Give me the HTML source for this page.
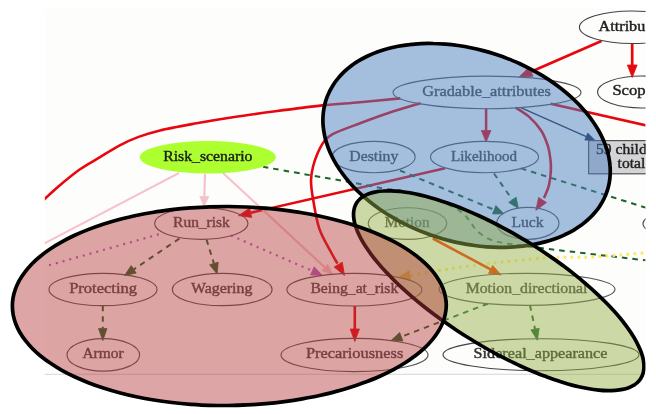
<!DOCTYPE html><html><head><meta charset="utf-8"><style>html,body{margin:0;padding:0;background:#fff;overflow:hidden}svg{display:block;filter:blur(0.3px)}</style></head><body>
<svg width="656" height="414" viewBox="0 0 656 414">
<defs><clipPath id="cp"><rect x="0" y="0" width="645.6" height="414"/></clipPath><clipPath id="cg"><rect x="44.8" y="8.5" width="600.8" height="365.8"/></clipPath></defs>
<rect x="0" y="0" width="656" height="414" fill="#ffffff"/>
<g clip-path="url(#cp)">
<rect x="44.8" y="8.5" width="600.8" height="365.8" fill="#fdfefc"/>
<line x1="44.8" y1="374.3" x2="645.6" y2="374.3" stroke="#d6d6d6" stroke-width="1"/>
<g clip-path="url(#cg)">
<path d="M40.0,203.3 C43.2,200.4 52.6,191.5 59.3,185.8 C66.0,180.1 73.2,174.1 80.0,169.3 C86.8,164.5 93.5,161.1 100.0,157.2 C106.5,153.2 112.9,149.0 119.3,145.6 C125.7,142.2 131.8,139.4 138.6,136.9 C145.4,134.4 150.3,132.7 160.0,130.4 C169.7,128.1 184.5,125.5 196.6,123.3 C208.7,121.1 219.6,119.3 232.7,117.3 C245.8,115.3 260.5,113.3 275.4,111.3 C290.3,109.3 308.2,106.9 322.3,105.4 C336.4,103.9 347.0,103.4 360.0,102.2 C373.0,101.0 393.6,99.0 400.3,98.4" fill="none" stroke="#e8070f" stroke-width="2.6" stroke-linecap="butt"/>
<path d="M420.6,103.2 C415.0,104.9 398.1,109.8 387.0,113.5 C375.9,117.2 363.4,122.0 354.3,125.4 C345.2,128.8 337.7,131.4 332.6,134.1 C327.5,136.8 326.4,138.4 323.9,141.7 C321.4,145.0 319.2,149.5 317.4,153.7 C315.6,157.9 314.1,162.2 313.0,166.7 C311.9,171.2 311.0,175.1 311.0,180.5 C311.0,185.9 311.7,191.3 313.1,199.3 C314.5,207.3 316.2,219.4 319.2,228.3 C322.2,237.2 328.1,246.6 331.2,252.5 C334.2,258.4 336.4,261.7 337.5,263.5" fill="none" stroke="#e8070f" stroke-width="2.6" stroke-linecap="butt"/>
<polygon points="344.5,275.4 334.1,267.0 342.3,262.2" fill="#e8070f" stroke="#e8070f" stroke-width="0.8" stroke-linejoin="miter"/>
<polygon points="238.5,215.6 249.6,208.2 251.7,217.4" fill="#e8070f" stroke="#e8070f" stroke-width="0.8" stroke-linejoin="miter"/>
<line x1="445.1" y1="168.2" x2="250.7" y2="212.8" stroke="#e8070f" stroke-width="2.6"/>
<polygon points="519.1,76.9 529.1,67.3 533.0,76.2" fill="#e8070f" stroke="#e8070f" stroke-width="0.8" stroke-linejoin="miter"/>
<line x1="601.5" y1="41.1" x2="531.0" y2="71.7" stroke="#e8070f" stroke-width="2.7"/>
<polygon points="632.2,77.5 627.4,65.0 637.1,65.0" fill="#e8070f" stroke="#e8070f" stroke-width="0.8" stroke-linejoin="miter"/>
<line x1="632.2" y1="43.9" x2="632.2" y2="65.0" stroke="#e8070f" stroke-width="2.7"/>
<line x1="550.6" y1="103.8" x2="650.0" y2="126.2" stroke="#e8070f" stroke-width="2.7"/>
<polygon points="486.1,142.0 481.4,130.5 490.9,130.5" fill="#e8070f" stroke="#e8070f" stroke-width="0.8" stroke-linejoin="miter"/>
<line x1="486.1" y1="108.2" x2="486.1" y2="130.5" stroke="#e8070f" stroke-width="2.5"/>
<path d="M515.7,107.6 C518.0,109.1 525.0,113.1 529.2,116.9 C533.4,120.7 538.0,125.7 541.1,130.5 C544.2,135.3 546.2,140.9 547.8,145.7 C549.3,150.5 549.9,155.1 550.4,159.2 C550.9,163.2 551.1,165.7 550.9,170.0 C550.7,174.3 550.1,180.3 549.0,185.0 C547.9,189.7 544.8,195.8 544.0,198.0" fill="none" stroke="#e8070f" stroke-width="2.6" stroke-linecap="butt"/>
<polygon points="535.8,210.5 538.6,197.4 546.5,202.5" fill="#e8070f" stroke="#e8070f" stroke-width="0.8" stroke-linejoin="miter"/>
<polygon points="595.0,140.4 584.8,140.0 587.8,133.1" fill="#1c2f4a" stroke="#1c2f4a" stroke-width="0.8" stroke-linejoin="miter"/>
<line x1="520.8" y1="107.6" x2="586.3" y2="136.6" stroke="#1c2f4a" stroke-width="1.3"/>
<line x1="179.0" y1="173.0" x2="40.0" y2="245.8" stroke="#f6c2cb" stroke-width="2.0"/>
<polygon points="204.0,206.5 199.8,196.4 208.8,196.6" fill="#f6c2cb" stroke="#f6c2cb" stroke-width="0.8" stroke-linejoin="miter"/>
<line x1="205.0" y1="173.6" x2="204.3" y2="196.5" stroke="#f6c2cb" stroke-width="2.2"/>
<polygon points="333.0,275.0 322.0,270.6 327.8,264.4" fill="#f6c2cb" stroke="#f6c2cb" stroke-width="0.8" stroke-linejoin="miter"/>
<line x1="223.0" y1="173.0" x2="324.9" y2="267.5" stroke="#f6c2cb" stroke-width="2.2"/>
<path d="M263.0,166.8 C270.1,168.1 292.0,172.0 305.7,174.4 C319.4,176.8 332.7,179.0 345.4,181.3 C358.1,183.6 372.1,186.5 382.0,188.2 C391.9,189.9 397.2,189.8 405.0,191.3 C412.8,192.8 422.3,195.4 429.0,197.3 C435.7,199.2 439.8,200.6 445.0,203.0 C450.2,205.4 456.4,208.7 460.5,211.6 C464.6,214.5 466.9,217.4 469.6,220.6 C472.3,223.8 473.3,227.5 476.8,230.7 C480.3,233.9 484.9,237.4 490.4,239.6 C495.9,241.8 500.0,242.3 509.6,243.9 C519.2,245.5 534.1,247.2 548.0,248.9 C561.9,250.6 576.0,252.2 593.0,254.2 C610.0,256.2 640.5,259.7 650.0,260.8" fill="none" stroke="#1e6428" stroke-width="2.0" stroke-linecap="butt" stroke-dasharray="5.5,5"/>
<polygon points="503.9,213.8 492.5,213.9 495.9,205.6" fill="#1e6428" stroke="#1e6428" stroke-width="0.8" stroke-linejoin="miter"/>
<line x1="400.0" y1="170.5" x2="494.2" y2="209.8" stroke="#1e6428" stroke-width="2.0" stroke-dasharray="5.5,5"/>
<polygon points="518.4,208.4 508.7,202.4 516.1,197.2" fill="#1e6428" stroke="#1e6428" stroke-width="0.8" stroke-linejoin="miter"/>
<line x1="494.0" y1="173.5" x2="512.4" y2="199.8" stroke="#1e6428" stroke-width="2.0" stroke-dasharray="5.5,5"/>
<line x1="521.0" y1="168.4" x2="650.0" y2="209.0" stroke="#1e6428" stroke-width="2.0" stroke-dasharray="5.5,5"/>
<path d="M650.0,252.5 C640.5,253.2 610.0,256.0 593.0,256.9 C576.0,257.8 566.2,256.5 548.0,257.7 C529.8,258.9 502.1,262.0 484.0,264.1 C465.9,266.2 451.4,268.6 439.2,270.5 C427.0,272.4 415.7,274.7 411.0,275.5" fill="none" stroke="#fbe866" stroke-width="3.0" stroke-linecap="butt" stroke-dasharray="2.6,4.4"/>
<polygon points="399.1,277.0 409.2,270.6 410.7,279.9" fill="#eac040" stroke="#eac040" stroke-width="0.8" stroke-linejoin="miter"/>
<polygon points="501.2,275.0 488.5,273.3 492.7,265.4" fill="#ff3000" stroke="#ff3000" stroke-width="0.8" stroke-linejoin="miter"/>
<line x1="432.8" y1="238.5" x2="490.6" y2="269.4" stroke="#ff3000" stroke-width="2.6"/>
<polygon points="124.6,275.5 131.2,265.6 136.2,273.1" fill="#1e6428" stroke="#1e6428" stroke-width="0.8" stroke-linejoin="miter"/>
<line x1="179.5" y1="238.5" x2="133.7" y2="269.4" stroke="#1e6428" stroke-width="2.0" stroke-dasharray="5.5,5"/>
<polygon points="217.1,274.0 209.6,264.8 218.2,262.2" fill="#1e6428" stroke="#1e6428" stroke-width="0.8" stroke-linejoin="miter"/>
<line x1="206.5" y1="239.5" x2="213.9" y2="263.5" stroke="#1e6428" stroke-width="2.0" stroke-dasharray="5.5,5"/>
<polygon points="322.0,275.1 310.6,275.0 314.2,266.8" fill="#b45cc0" stroke="#b45cc0" stroke-width="0.8" stroke-linejoin="miter"/>
<line x1="231.0" y1="235.5" x2="312.4" y2="270.9" stroke="#b45cc0" stroke-width="2.2" stroke-dasharray="2,5"/>
<line x1="158.8" y1="234.3" x2="40.0" y2="267.8" stroke="#b45cc0" stroke-width="2.2" stroke-dasharray="2,5"/>
<polygon points="102.8,340.6 98.5,328.6 107.0,328.6" fill="#1e6428" stroke="#1e6428" stroke-width="0.8" stroke-linejoin="miter"/>
<line x1="102.8" y1="305.8" x2="102.8" y2="328.6" stroke="#1e6428" stroke-width="2.0" stroke-dasharray="5.5,5"/>
<polygon points="354.8,341.5 350.2,329.0 359.4,329.0" fill="#e8070f" stroke="#e8070f" stroke-width="0.8" stroke-linejoin="miter"/>
<line x1="354.8" y1="306.0" x2="354.8" y2="329.0" stroke="#e8070f" stroke-width="2.6"/>
<polygon points="391.0,340.6 399.7,332.5 402.9,340.9" fill="#1e6428" stroke="#1e6428" stroke-width="0.8" stroke-linejoin="miter"/>
<line x1="487.9" y1="303.7" x2="401.3" y2="336.7" stroke="#1e6428" stroke-width="2.0" stroke-dasharray="5.5,5"/>
<polygon points="537.4,340.3 530.9,329.9 539.2,328.2" fill="#1e6428" stroke="#1e6428" stroke-width="0.8" stroke-linejoin="miter"/>
<line x1="530.0" y1="305.2" x2="535.0" y2="329.0" stroke="#1e6428" stroke-width="2.0" stroke-dasharray="5.5,5"/>
</g>
<ellipse cx="632" cy="27.25" rx="52.6" ry="16.25" fill="none" stroke="#444" stroke-width="1.15"/>
<text x="598.6" y="30.9" textLength="46.7" lengthAdjust="spacingAndGlyphs" style="font-family:'Liberation Serif',serif;font-size:13.7px" fill="#1e1e1e" stroke="#1e1e1e" stroke-width="0.4">Attribu</text>
<ellipse cx="642" cy="92" rx="44.5" ry="16" fill="none" stroke="#444" stroke-width="1.15"/>
<text x="612.4" y="94.9" textLength="40.5" lengthAdjust="spacingAndGlyphs" style="font-family:'Liberation Serif',serif;font-size:13.7px" fill="#1e1e1e" stroke="#1e1e1e" stroke-width="0.4">Scope</text>
<ellipse cx="487" cy="92.4" rx="94" ry="16.3" fill="none" stroke="#555555" stroke-width="1.15"/>
<text x="422.2" y="95.6" textLength="128.6" lengthAdjust="spacingAndGlyphs" style="font-family:'Liberation Serif',serif;font-size:13.7px" fill="#474747" stroke="#474747" stroke-width="0.4">Gradable_attributes</text>
<ellipse cx="373.6" cy="157" rx="41.6" ry="15.7" fill="none" stroke="#555555" stroke-width="1.15"/>
<text x="349.3" y="161" textLength="49.1" lengthAdjust="spacingAndGlyphs" style="font-family:'Liberation Serif',serif;font-size:13.7px" fill="#474747" stroke="#474747" stroke-width="0.4">Destiny</text>
<ellipse cx="484.5" cy="157" rx="54" ry="15.7" fill="none" stroke="#555555" stroke-width="1.15"/>
<text x="451.0" y="160.9" textLength="66.0" lengthAdjust="spacingAndGlyphs" style="font-family:'Liberation Serif',serif;font-size:13.7px" fill="#474747" stroke="#474747" stroke-width="0.4">Likelihood</text>
<ellipse cx="207.8" cy="157.3" rx="68" ry="16.2" fill="#adff2f" stroke="none" stroke-width="1.15"/>
<text x="163.2" y="160.6" textLength="89.3" lengthAdjust="spacingAndGlyphs" style="font-family:'Liberation Serif',serif;font-size:13.7px" fill="#1e1e1e" stroke="#1e1e1e" stroke-width="0.4">Risk_scenario</text>
<ellipse cx="527.8" cy="223.3" rx="31.2" ry="16" fill="none" stroke="#555555" stroke-width="1.15"/>
<text x="511.4" y="226.8" textLength="32.1" lengthAdjust="spacingAndGlyphs" style="font-family:'Liberation Serif',serif;font-size:13.7px" fill="#474747" stroke="#474747" stroke-width="0.4">Luck</text>
<ellipse cx="407.5" cy="223.5" rx="39.3" ry="15.8" fill="none" stroke="#555555" stroke-width="1.15"/>
<text x="384.6" y="226.5" textLength="45.0" lengthAdjust="spacingAndGlyphs" style="font-family:'Liberation Serif',serif;font-size:13.7px" fill="#474747" stroke="#474747" stroke-width="0.4">Motion</text>
<ellipse cx="201.3" cy="223.5" rx="46.7" ry="15.8" fill="none" stroke="#555555" stroke-width="1.15"/>
<text x="173.1" y="226.6" textLength="56.7" lengthAdjust="spacingAndGlyphs" style="font-family:'Liberation Serif',serif;font-size:13.7px" fill="#474747" stroke="#474747" stroke-width="0.4">Run_risk</text>
<ellipse cx="103" cy="289.5" rx="54" ry="16.2" fill="none" stroke="#555555" stroke-width="1.15"/>
<text x="69.2" y="293.4" textLength="67.8" lengthAdjust="spacingAndGlyphs" style="font-family:'Liberation Serif',serif;font-size:13.7px" fill="#474747" stroke="#474747" stroke-width="0.4">Protecting</text>
<ellipse cx="222.2" cy="289.5" rx="49.9" ry="16.2" fill="none" stroke="#555555" stroke-width="1.15"/>
<text x="191.0" y="293.4" textLength="61.4" lengthAdjust="spacingAndGlyphs" style="font-family:'Liberation Serif',serif;font-size:13.7px" fill="#474747" stroke="#474747" stroke-width="0.4">Wagering</text>
<ellipse cx="354.4" cy="289.7" rx="67.5" ry="16.3" fill="none" stroke="#555555" stroke-width="1.15"/>
<text x="310.4" y="293.1" textLength="87.9" lengthAdjust="spacingAndGlyphs" style="font-family:'Liberation Serif',serif;font-size:13.7px" fill="#474747" stroke="#474747" stroke-width="0.4">Being_at_risk</text>
<ellipse cx="527" cy="289.3" rx="88" ry="16" fill="none" stroke="#555555" stroke-width="1.15"/>
<text x="465.7" y="293.1" textLength="121.8" lengthAdjust="spacingAndGlyphs" style="font-family:'Liberation Serif',serif;font-size:13.7px" fill="#474747" stroke="#474747" stroke-width="0.4">Motion_directional</text>
<ellipse cx="103.3" cy="354.9" rx="36.3" ry="16.2" fill="none" stroke="#555555" stroke-width="1.15"/>
<text x="82.4" y="358.3" textLength="41.2" lengthAdjust="spacingAndGlyphs" style="font-family:'Liberation Serif',serif;font-size:13.7px" fill="#474747" stroke="#474747" stroke-width="0.4">Armor</text>
<ellipse cx="354.5" cy="355" rx="73.5" ry="16.6" fill="none" stroke="#555555" stroke-width="1.15"/>
<text x="305.9" y="358.3" textLength="97.4" lengthAdjust="spacingAndGlyphs" style="font-family:'Liberation Serif',serif;font-size:13.7px" fill="#474747" stroke="#474747" stroke-width="0.4">Precariousness</text>
<ellipse cx="541" cy="354.7" rx="98" ry="16" fill="none" stroke="#444" stroke-width="1.15"/>
<text x="473.6" y="358.1" textLength="133.9" lengthAdjust="spacingAndGlyphs" style="font-family:'Liberation Serif',serif;font-size:13.7px" fill="#303030" stroke="#303030" stroke-width="0.4">Sidereal_appearance</text>
<ellipse cx="702" cy="223.7" rx="59" ry="16" fill="none" stroke="#555555" stroke-width="1.15"/>
<rect x="588.6" y="140.6" width="80" height="33.2" fill="#d4d4d6" stroke="#505050" stroke-width="1.2"/>
<text x="596" y="154" textLength="50.7" lengthAdjust="spacingAndGlyphs" style="font-family:'Liberation Serif',serif;font-size:13.7px" fill="#222" stroke="#222" stroke-width="0.4">59 child</text>
<text x="617.6" y="167.5" textLength="27.8" lengthAdjust="spacingAndGlyphs" style="font-family:'Liberation Serif',serif;font-size:13.7px" fill="#222" stroke="#222" stroke-width="0.4">total</text>
<path d="M325.8,100.6 C326.7,97.9 327.7,95.3 328.9,92.8 C330.0,90.2 331.4,87.8 332.9,85.4 C334.4,83.0 336.1,80.6 338.0,78.4 C339.8,76.1 341.9,74.0 344.0,71.9 C346.2,69.8 348.5,67.9 351.0,66.0 C353.5,64.1 356.1,62.3 358.9,60.7 C361.7,59.0 364.6,57.5 367.6,56.0 C370.7,54.6 373.8,53.2 377.1,52.0 C380.4,50.8 383.8,49.7 387.3,48.8 C390.8,47.8 394.4,47.0 398.1,46.3 C401.8,45.6 405.6,45.0 409.4,44.6 C413.3,44.1 417.2,43.8 421.2,43.6 C425.2,43.4 429.2,43.4 433.3,43.5 C437.4,43.5 441.5,43.8 445.6,44.1 C449.8,44.4 454.0,44.9 458.1,45.5 C462.3,46.1 466.5,46.8 470.7,47.7 C474.8,48.5 479.0,49.5 483.1,50.6 C487.3,51.7 491.4,52.9 495.5,54.3 C499.6,55.6 503.6,57.0 507.6,58.6 C511.6,60.1 515.5,61.8 519.4,63.5 C523.2,65.3 527.0,67.2 530.7,69.1 C534.5,71.1 538.1,73.1 541.6,75.2 C545.2,77.4 548.6,79.6 552.0,81.9 C555.3,84.2 558.6,86.6 561.7,89.0 C564.8,91.5 567.8,94.0 570.7,96.6 C573.5,99.2 576.3,101.8 578.9,104.5 C581.5,107.2 583.9,110.0 586.3,112.8 C588.6,115.6 590.7,118.4 592.7,121.3 C594.7,124.2 596.6,127.1 598.3,130.0 C600.0,132.9 601.5,135.9 602.8,138.8 C604.1,141.8 605.3,144.8 606.3,147.7 C607.3,150.7 608.1,153.7 608.7,156.6 C609.3,159.6 609.8,162.5 610.0,165.4 C610.3,168.4 610.3,171.3 610.2,174.1 C610.1,177.0 609.8,179.8 609.3,182.6 C608.8,185.3 608.1,188.1 607.3,190.7 C606.4,193.4 605.4,196.0 604.1,198.5 C602.9,201.1 601.5,203.5 599.9,205.9 C598.4,208.3 596.6,210.6 594.7,212.8 C592.8,215.1 590.7,217.2 588.5,219.2 C586.3,221.3 583.9,223.2 581.4,225.1 C578.9,226.9 576.2,228.6 573.4,230.3 C570.6,231.9 567.7,233.4 564.6,234.8 C561.6,236.3 558.4,237.6 555.1,238.7 C551.8,239.9 548.4,241.0 544.9,241.9 C541.4,242.9 537.8,243.7 534.1,244.4 C530.4,245.1 526.7,245.7 522.8,246.1 C519.0,246.6 515.1,246.9 511.1,247.1 C507.2,247.3 503.2,247.4 499.1,247.4 C495.1,247.3 490.9,247.1 486.8,246.8 C482.7,246.5 478.5,246.1 474.4,245.5 C470.2,244.9 466.0,244.3 461.8,243.4 C457.7,242.6 453.5,241.7 449.3,240.6 C445.2,239.6 441.0,238.4 436.9,237.1 C432.8,235.8 428.8,234.4 424.8,232.8 C420.7,231.3 416.8,229.7 412.9,227.9 C409.0,226.2 405.2,224.3 401.4,222.4 C397.7,220.4 394.0,218.3 390.5,216.2 C386.9,214.1 383.5,211.8 380.1,209.5 C376.8,207.2 373.5,204.8 370.4,202.3 C367.3,199.8 364.3,197.3 361.5,194.7 C358.6,192.1 355.9,189.4 353.3,186.7 C350.8,184.0 348.3,181.2 346.1,178.4 C343.8,175.6 341.7,172.7 339.7,169.8 C337.8,166.9 336.0,164.0 334.4,161.1 C332.7,158.2 331.3,155.2 330.0,152.3 C328.7,149.3 327.6,146.3 326.7,143.4 C325.7,140.4 324.9,137.5 324.4,134.5 C323.8,131.6 323.4,128.6 323.1,125.8 C322.9,122.9 322.8,120.0 323.0,117.1 C323.1,114.3 323.4,111.5 323.9,108.7 C324.4,106.0 325.0,103.2 325.8,100.6Z" fill="rgba(75,125,189,0.5)" stroke="#000" stroke-width="3.7"/>
<path d="M356.7,202.8 C357.6,201.4 358.7,200.1 359.9,199.0 C361.2,197.8 362.6,196.8 364.2,195.9 C365.8,195.0 367.6,194.2 369.5,193.5 C371.4,192.8 373.5,192.3 375.8,191.9 C378.0,191.4 380.4,191.1 383.0,191.0 C385.5,190.8 388.2,190.8 391.0,190.8 C393.9,190.9 396.8,191.1 399.9,191.4 C403.0,191.8 406.2,192.2 409.5,192.8 C412.8,193.4 416.3,194.1 419.8,194.9 C423.3,195.7 426.9,196.6 430.6,197.7 C434.4,198.7 438.2,199.9 442.0,201.2 C445.9,202.4 449.8,203.8 453.8,205.3 C457.8,206.8 461.9,208.4 466.0,210.1 C470.1,211.8 474.2,213.6 478.4,215.5 C482.6,217.4 486.8,219.4 491.0,221.5 C495.2,223.6 499.4,225.8 503.6,228.1 C507.8,230.3 512.1,232.6 516.3,235.1 C520.5,237.5 524.6,240.0 528.8,242.5 C532.9,245.0 537.0,247.6 541.1,250.3 C545.1,253.0 549.1,255.7 553.0,258.4 C557.0,261.2 560.8,264.0 564.6,266.8 C568.4,269.6 572.1,272.5 575.7,275.4 C579.2,278.2 582.7,281.2 586.1,284.1 C589.5,287.0 592.8,289.9 595.9,292.8 C599.0,295.7 602.1,298.6 604.9,301.5 C607.8,304.4 610.6,307.2 613.1,310.1 C615.7,312.9 618.2,315.8 620.5,318.5 C622.8,321.3 624.9,324.1 626.9,326.8 C628.8,329.5 630.7,332.1 632.3,334.7 C634.0,337.3 635.4,339.9 636.7,342.3 C638.0,344.8 639.2,347.2 640.1,349.6 C641.1,351.9 641.9,354.2 642.5,356.3 C643.1,358.5 643.5,360.6 643.7,362.6 C644.0,364.6 644.0,366.6 643.9,368.4 C643.8,370.2 643.5,371.9 643.0,373.5 C642.5,375.2 641.9,376.7 641.0,378.1 C640.2,379.5 639.2,380.8 638.0,382.0 C636.8,383.2 635.4,384.2 633.9,385.2 C632.3,386.1 630.6,387.0 628.7,387.7 C626.9,388.4 624.8,389.0 622.6,389.4 C620.4,389.9 618.0,390.2 615.5,390.4 C613.0,390.6 610.3,390.7 607.5,390.7 C604.7,390.6 601.8,390.4 598.7,390.1 C595.6,389.8 592.4,389.4 589.1,388.8 C585.8,388.2 582.3,387.5 578.8,386.7 C575.3,385.9 571.6,385.0 567.9,383.9 C564.1,382.8 560.3,381.6 556.4,380.3 C552.5,379.1 548.6,377.6 544.5,376.1 C540.5,374.6 536.4,372.9 532.3,371.2 C528.2,369.5 524.0,367.6 519.9,365.7 C515.7,363.8 511.5,361.7 507.3,359.6 C503.1,357.5 498.8,355.3 494.6,353.1 C490.4,350.8 486.2,348.4 482.0,346.0 C477.8,343.6 473.7,341.1 469.6,338.5 C465.4,336.0 461.3,333.4 457.3,330.7 C453.3,328.1 449.3,325.4 445.4,322.6 C441.5,319.9 437.7,317.1 433.9,314.3 C430.1,311.5 426.4,308.6 422.9,305.8 C419.3,302.9 415.8,300.0 412.4,297.1 C409.0,294.2 405.7,291.3 402.6,288.4 C399.4,285.5 396.4,282.6 393.5,279.7 C390.6,276.8 387.8,274.0 385.1,271.1 C382.5,268.3 380.0,265.4 377.7,262.6 C375.3,259.8 373.1,257.1 371.1,254.3 C369.1,251.6 367.2,248.9 365.5,246.3 C363.8,243.7 362.3,241.1 360.9,238.6 C359.6,236.1 358.4,233.7 357.4,231.3 C356.5,229.0 355.7,226.7 355.0,224.5 C354.4,222.3 354.0,220.2 353.8,218.2 C353.5,216.2 353.5,214.3 353.6,212.4 C353.8,210.6 354.1,208.9 354.6,207.3 C355.1,205.7 355.8,204.2 356.7,202.8Z" fill="rgba(149,177,70,0.47)" stroke="#000" stroke-width="3.7"/>
<path d="M12.4,306.3 C12.3,303.4 12.6,300.5 13.1,297.7 C13.6,294.8 14.4,291.9 15.4,289.1 C16.4,286.3 17.7,283.4 19.2,280.6 C20.8,277.8 22.6,275.0 24.7,272.3 C26.7,269.6 29.1,266.9 31.6,264.2 C34.2,261.6 37.0,259.0 40.1,256.5 C43.2,253.9 46.5,251.4 50.1,249.0 C53.6,246.6 57.4,244.3 61.4,242.1 C65.4,239.8 69.7,237.6 74.1,235.5 C78.5,233.5 83.2,231.5 88.0,229.6 C92.8,227.7 97.9,225.9 103.0,224.2 C108.2,222.6 113.6,221.0 119.1,219.5 C124.6,218.1 130.2,216.7 136.0,215.5 C141.7,214.3 147.6,213.2 153.6,212.2 C159.5,211.2 165.6,210.4 171.8,209.6 C177.9,208.9 184.1,208.3 190.3,207.8 C196.5,207.4 202.8,207.0 209.1,206.8 C215.4,206.6 221.7,206.5 228.0,206.5 C234.3,206.5 240.6,206.7 246.9,207.0 C253.2,207.3 259.4,207.7 265.6,208.2 C271.8,208.7 277.9,209.3 284.0,210.1 C290.0,210.9 296.0,211.7 301.9,212.7 C307.8,213.7 313.6,214.8 319.3,216.0 C325.0,217.2 330.5,218.5 336.0,220.0 C341.4,221.4 346.8,222.9 351.9,224.5 C357.1,226.2 362.1,227.9 367.0,229.7 C371.9,231.5 376.6,233.4 381.1,235.5 C385.6,237.5 389.9,239.6 394.0,241.7 C398.1,243.9 402.1,246.2 405.8,248.5 C409.5,250.8 413.0,253.3 416.2,255.7 C419.5,258.2 422.5,260.8 425.2,263.4 C428.0,266.0 430.5,268.7 432.7,271.4 C435.0,274.1 436.9,276.9 438.6,279.7 C440.3,282.4 441.8,285.3 442.9,288.1 C444.0,291.0 444.9,293.9 445.4,296.8 C446.0,299.7 446.3,302.6 446.3,305.5 C446.2,308.4 445.9,311.3 445.3,314.2 C444.7,317.1 443.9,320.0 442.7,322.9 C441.5,325.7 440.1,328.6 438.4,331.3 C436.7,334.1 434.7,336.9 432.4,339.6 C430.2,342.3 427.7,345.0 424.9,347.6 C422.2,350.2 419.2,352.8 415.9,355.3 C412.7,357.7 409.2,360.2 405.6,362.5 C401.9,364.9 398.0,367.1 393.9,369.3 C389.8,371.5 385.5,373.6 381.0,375.7 C376.6,377.7 371.9,379.6 367.1,381.5 C362.2,383.3 357.2,385.1 352.1,386.7 C347.0,388.4 341.7,390.0 336.2,391.4 C330.8,392.9 325.3,394.2 319.6,395.5 C313.9,396.7 308.1,397.8 302.3,398.9 C296.4,399.9 290.4,400.8 284.4,401.6 C278.3,402.4 272.2,403.1 266.0,403.6 C259.8,404.2 253.6,404.6 247.3,404.9 C241.0,405.2 234.7,405.4 228.4,405.5 C222.1,405.5 215.8,405.5 209.5,405.3 C203.2,405.1 196.9,404.7 190.6,404.3 C184.4,403.8 178.2,403.2 172.0,402.5 C165.9,401.8 159.8,401.0 153.9,400.0 C147.9,399.0 142.0,397.9 136.3,396.7 C130.5,395.5 124.9,394.2 119.4,392.7 C113.9,391.3 108.6,389.7 103.4,388.0 C98.2,386.4 93.2,384.6 88.4,382.7 C83.6,380.8 78.9,378.8 74.5,376.8 C70.1,374.7 65.9,372.5 61.9,370.3 C57.9,368.1 54.1,365.7 50.6,363.3 C47.0,361.0 43.7,358.5 40.6,356.0 C37.5,353.5 34.7,350.9 32.1,348.2 C29.5,345.6 27.2,342.9 25.1,340.2 C23.0,337.5 21.2,334.7 19.6,332.0 C18.0,329.2 16.7,326.3 15.6,323.5 C14.6,320.7 13.8,317.8 13.2,314.9 C12.7,312.1 12.4,309.2 12.4,306.3Z" fill="rgba(180,55,55,0.45)" stroke="#000" stroke-width="3.7"/>
</g>
</svg></body></html>
